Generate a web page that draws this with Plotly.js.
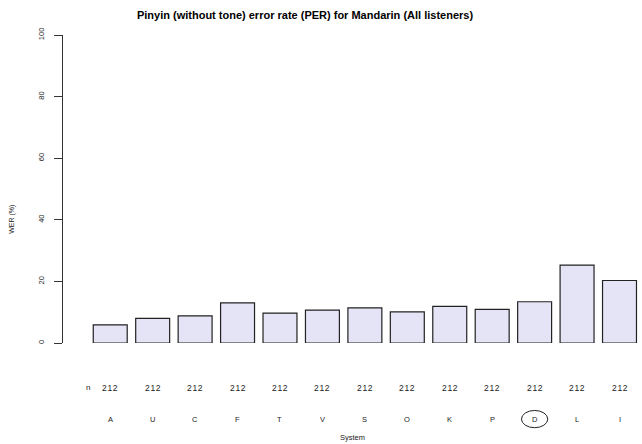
<!DOCTYPE html>
<html>
<head>
<meta charset="utf-8">
<script src="https://cdn.plot.ly/plotly-3.0.1.min.js"></script>
<style>html,body{margin:0;padding:0;background:#fff;}#chart{width:642px;height:444px;}</style>
</head>
<body>
<div id="chart"></div>
<script>
const systems = ["A","U","C","F","T","V","S","O","K","P","D","L","I"];
const perValues = [5.9, 8.0, 8.8, 13.0, 9.7, 10.7, 11.4, 10.1, 11.9, 10.9, 13.4, 25.3, 20.3];
const nCounts = [212,212,212,212,212,212,212,212,212,212,212,212,212];
const highlighted = "D";
const yTicks = [0, 20, 40, 60, 80, 100];

const idx = systems.map((s, i) => i);
const fontFam = "Liberation Sans, Arial, sans-serif";
const txtColor = "#222";
const nRowY = -0.146, sysRowY = -0.247;

const annotations = [];
annotations.push({x: 0.036, xref: "paper", y: nRowY, yref: "paper", yanchor: "middle", text: "n", showarrow: false,
  font: {family: fontFam, size: 8, color: txtColor}});
idx.forEach(i => {
  annotations.push({x: i, xref: "x", y: nRowY, yref: "paper", yanchor: "middle",
    text: String(nCounts[i]).split("").join("\u200A"), showarrow: false,
    font: {family: fontFam, size: 8.5, color: txtColor}});
  annotations.push({x: i, xref: "x", y: sysRowY, yref: "paper", yanchor: "middle", text: systems[i], showarrow: false,
    font: {family: fontFam, size: 7.5, color: txtColor}});
});
annotations.push({x: 0.5, xref: "paper", y: -0.306, yref: "paper", yanchor: "middle", text: "System", showarrow: false,
  font: {family: fontFam, size: 7.5, color: txtColor}});
annotations.push({x: -0.088, xref: "paper", xanchor: "center", y: 0.4, yref: "paper", yanchor: "middle", text: "WER (%)", textangle: -90, showarrow: false,
  font: {family: fontFam, size: 7, color: txtColor}});

const hi = systems.indexOf(highlighted);
const shapes = [{type: "circle", xref: "x", yref: "paper",
  x0: hi - 0.31, x1: hi + 0.31, y0: sysRowY - 0.028, y1: sysRowY + 0.028,
  line: {color: "#222", width: 1}}];

const trace = {
  type: "bar", x: idx, y: perValues,
  marker: {color: "#e4e4f6", line: {color: "#222", width: 1.2}},
  hoverinfo: "skip"
};

const layout = {
  width: 642, height: 444,
  margin: {l: 63, r: 0, t: 35, b: 101},
  paper_bgcolor: "#fff", plot_bgcolor: "#fff",
  bargap: 0.2,
  showlegend: false,
  title: {text: "<b>Pinyin (without tone) error rate (PER) for Mandarin (All listeners)</b>",
    x: 0.418, xref: "paper", xanchor: "center", y: 0.966, yanchor: "middle",
    font: {family: fontFam, size: 11, color: "#000"}},
  xaxis: {range: [-1.113, 12.53], showgrid: false, zeroline: false, showline: false,
    showticklabels: false, ticks: "", fixedrange: true},
  yaxis: {range: [0, 100], tickvals: yTicks, ticktext: yTicks.map(String), showgrid: false, zeroline: false,
    showline: true, linecolor: "#333", linewidth: 1, ticks: "outside", ticklen: 8, tickcolor: "#333",
    tickangle: -90, ticklabelstandoff: 7, tickfont: {family: fontFam, size: 7.5, color: txtColor}},
  annotations: annotations,
  shapes: shapes
};

Plotly.newPlot("chart", [trace], layout, {displayModeBar: false, staticPlot: true});
</script>
</body>
</html>
